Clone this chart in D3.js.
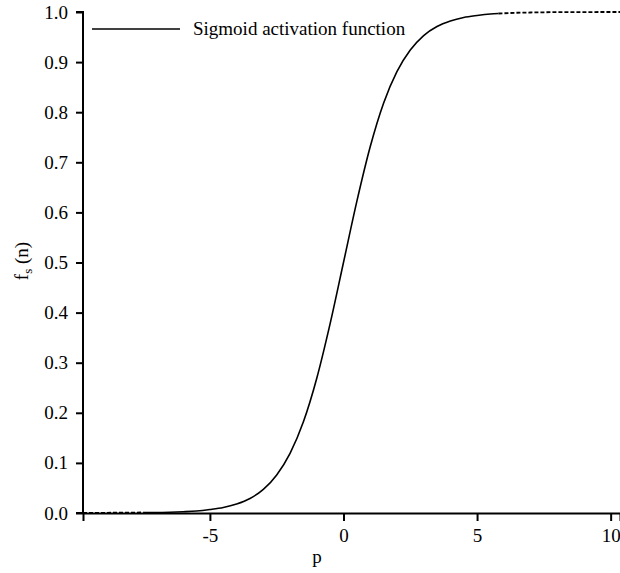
<!DOCTYPE html>
<html><head><meta charset="utf-8">
<script src="https://cdn.jsdelivr.net/npm/d3@7"></script>
<style>body{margin:0;background:#fff}svg{display:block}</style>
</head><body>
<svg id="c" width="620" height="573"></svg>
<script>
// values
const solidX = [-7.5,-7,-6.5,-6,-5.5,-5,-4.5,-4,-3.5,-3,-2.5,-2,-1.5,-1,-0.5,0,0.5,1,1.5,2,2.5,3,3.5,4,4.5,5,5.5,5.8];
const solidY = [0.001,0.001,0.0015,0.0025,0.004,0.007,0.011,0.018,0.029,0.047,0.076,0.119,0.182,0.269,0.378,0.5,0.622,0.731,0.818,0.881,0.924,0.953,0.971,0.982,0.989,0.993,0.996,0.997];
const dashLeftX = [-9.75,-7.5];
const dashLeftY = [0.0,0.001];
const dashRightX = [5.8,6.5,7,8,9,10.35];
const dashRightY = [0.997,0.9985,0.999,0.9997,0.9999,1.0];
const xTicks = [-5,0,5,10];
const yTicks = [0,0.1,0.2,0.3,0.4,0.5,0.6,0.7,0.8,0.9,1.0];
const legendLabel = "Sigmoid activation function";

const FONT = "Liberation Serif, Times New Roman, serif";
const FS = 19;
const svg = d3.select("#c").attr("font-family", FONT);
const m = {l:83, r:620, t:12, b:513};
const x = d3.scaleLinear().domain([-9.75,10.35]).range([m.l,m.r]);
const y = d3.scaleLinear().domain([0,1]).range([m.b,m.t]);

const xa = svg.append("g").attr("transform",`translate(0,${m.b})`)
  .call(d3.axisBottom(x).tickValues(xTicks).tickSize(8).tickPadding(8).tickFormat(d => String(d)));
const ya = svg.append("g").attr("transform",`translate(${m.l},0)`)
  .call(d3.axisLeft(y).tickValues(yTicks).tickSize(7).tickPadding(8).tickFormat(d3.format(".1f")));
[xa,ya].forEach(a=>{
  a.attr("font-family", FONT).attr("font-size", FS);
  a.select(".domain").attr("stroke","#000").attr("stroke-width",2);
  a.selectAll(".tick line").attr("stroke","#000").attr("stroke-width",2);
  a.selectAll(".tick text").attr("fill","#000");
});
ya.select(".domain").attr("d",`M-7,${m.t}H0V${m.b}H-7`);

const line = d3.line().x(d=>x(d[0])).y(d=>y(d[1])).curve(d3.curveMonotoneX);
const zip = (a,b)=>a.map((v,i)=>[v,b[i]]);
svg.append("path").datum(zip(solidX,solidY)).attr("d",line)
  .attr("fill","none").attr("stroke","#000").attr("stroke-width",1.6);
[[dashLeftX,dashLeftY],[dashRightX,dashRightY]].forEach(([a,b])=>{
  svg.append("path").datum(zip(a,b)).attr("d",line)
    .attr("fill","none").attr("stroke","#000").attr("stroke-width",1.8).attr("stroke-dasharray","4,2");
});

// legend
svg.append("line").attr("x1",92).attr("x2",180).attr("y1",29).attr("y2",29)
  .attr("stroke","#000").attr("stroke-width",1.6);
svg.append("text").attr("x",193).attr("y",35).attr("font-size",FS).text(legendLabel);

// axis titles
svg.append("text").attr("x",317).attr("y",563).attr("text-anchor","middle").attr("font-size",FS).text("p");
const yt = svg.append("text").attr("transform","translate(28,261) rotate(-90)").attr("text-anchor","middle").attr("font-size",FS);
yt.append("tspan").text("f");
yt.append("tspan").attr("font-size",13).attr("dy",4).text("s");
yt.append("tspan").attr("dy",-4).text(" (n)");
</script>
</body></html>
